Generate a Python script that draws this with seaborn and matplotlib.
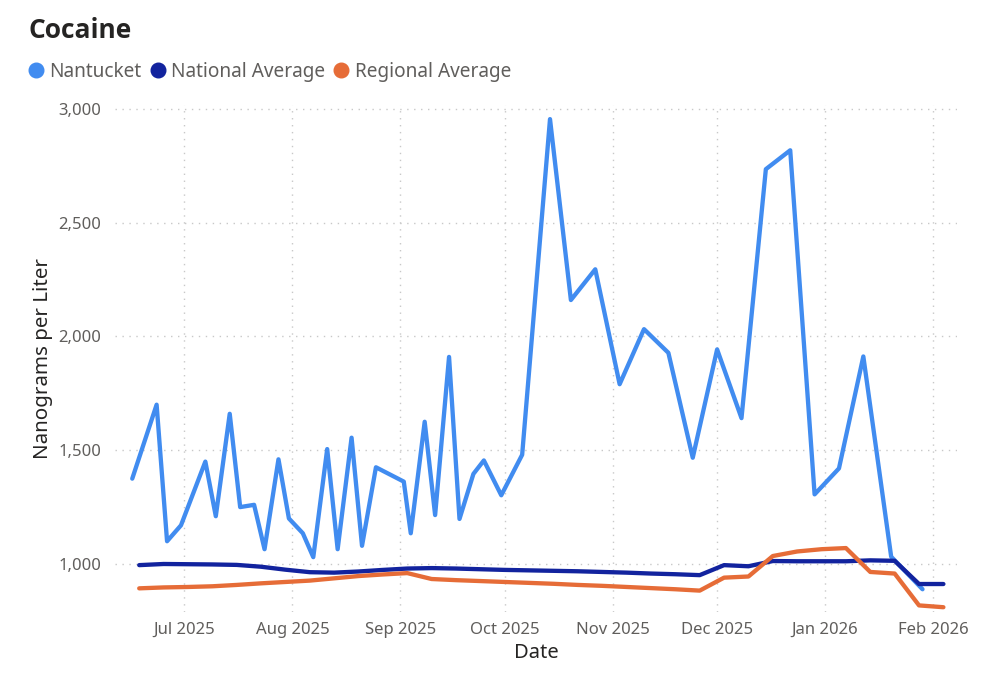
"""
Cocaine concentration in wastewater: Nantucket vs national and regional averages.
"""

import pandas as pd
import numpy as np
import matplotlib
matplotlib.use("Agg")
import matplotlib.pyplot as plt
import matplotlib.dates as mdates
from matplotlib.lines import Line2D
from matplotlib.ticker import FuncFormatter, MultipleLocator
import seaborn as sns

# Nantucket samples (twice weekly in summer, weekly from October)
nantucket_dates = [
    "2025-06-16", "2025-06-23", "2025-06-26", "2025-06-30", "2025-07-07",
    "2025-07-10", "2025-07-14", "2025-07-17", "2025-07-21", "2025-07-24",
    "2025-07-28", "2025-07-31", "2025-08-04", "2025-08-07", "2025-08-11",
    "2025-08-14", "2025-08-18", "2025-08-21", "2025-08-25", "2025-09-02",
    "2025-09-04", "2025-09-08", "2025-09-11", "2025-09-15", "2025-09-18",
    "2025-09-22", "2025-09-25", "2025-09-30", "2025-10-06", "2025-10-14",
    "2025-10-20", "2025-10-27", "2025-11-03", "2025-11-10", "2025-11-17",
    "2025-11-24", "2025-12-01", "2025-12-08", "2025-12-15", "2025-12-22",
    "2025-12-29", "2026-01-05", "2026-01-12", "2026-01-20", "2026-01-29",
]
nantucket_values = [
    1375, 1700, 1100, 1170, 1450, 1210, 1660, 1250, 1260, 1065,
    1460, 1200, 1135, 1030, 1505, 1065, 1555, 1080, 1425, 1362,
    1135, 1625, 1215, 1910, 1198, 1396, 1455, 1302, 1480, 2955,
    2160, 2295, 1790, 2032, 1928, 1467, 1943, 1641, 2735, 2818,
    1306, 1420, 1912, 1032, 889,
]

# weekly averages
avg_dates = pd.date_range("2025-06-18", periods=34, freq="7D")
national_values = [
    995, 1000, 999, 998, 996, 988, 975, 964, 962, 967,
    974, 980, 982, 980, 977, 974, 972, 970, 968, 965,
    962, 958, 955, 951, 995, 990, 1013, 1012, 1012, 1012,
    1016, 1014, 912, 912,
]
regional_values = [
    893, 897, 899, 902, 908, 915, 921, 927, 937, 947,
    954, 960, 934, 929, 925, 921, 917, 913, 908, 904,
    899, 894, 889, 883, 940, 945, 1035, 1055, 1065, 1070,
    965, 958, 818, 810,
]

series_names = ["Nantucket", "National Average", "Regional Average"]
series_colors = ["#418CF0", "#12239E", "#E66C37"]

df = pd.concat([
    pd.DataFrame({"date": pd.to_datetime(nantucket_dates), "value": nantucket_values,
                  "series": series_names[0]}),
    pd.DataFrame({"date": avg_dates, "value": national_values, "series": series_names[1]}),
    pd.DataFrame({"date": avg_dates, "value": regional_values, "series": series_names[2]}),
], ignore_index=True)

sns.set_theme(style="white")
plt.rcParams["font.family"] = ["Noto Sans", "DejaVu Sans"]

fig, ax = plt.subplots(figsize=(9.9, 6.76), dpi=100)
fig.subplots_adjust(left=0.116, right=0.967, top=0.845, bottom=0.095)

sns.lineplot(data=df, x="date", y="value", hue="series", hue_order=series_names,
             palette=dict(zip(series_names, series_colors)), linewidth=3.1,
             legend=False, ax=ax)

ax.set_xlim(pd.Timestamp("2025-06-11"), pd.Timestamp("2026-02-08"))
ax.set_ylim(790, 3018)
ax.yaxis.set_major_locator(MultipleLocator(500))
ax.yaxis.set_major_formatter(FuncFormatter(lambda v, p: f"{v:,.0f}" if v >= 1000 else ""))
ax.xaxis.set_major_locator(mdates.MonthLocator())
ax.xaxis.set_major_formatter(mdates.DateFormatter("%b %Y"))

ax.grid(True, color="#C8C8C8", linestyle=(0, (1, 4)), linewidth=1.0)
for s in ax.spines.values():
    s.set_visible(False)
ax.tick_params(axis="both", length=0, labelsize=12, labelcolor="#605E5C")
ax.tick_params(axis="y", pad=10)
ax.tick_params(axis="x", pad=7)

ax.set_xlabel("Date", fontsize=14.5, color="#252423", labelpad=4)
ax.set_ylabel("Nanograms per Liter", fontsize=14.8, color="#252423", labelpad=4)

fig.text(28 / 990, 1 - 30 / 676, "Cocaine", fontsize=19, fontweight="bold",
         family=["Open Sans", "DejaVu Sans"], color="#252423", va="center", ha="left")

handles = [Line2D([], [], linestyle="none", marker="o", markersize=10.5,
                  markerfacecolor=c, markeredgecolor=c) for c in series_colors]
fig.legend(handles, series_names, loc="center left",
           bbox_to_anchor=(21 / 990, 1 - 72 / 676), ncol=3, frameon=False,
           handlelength=0.8, handletextpad=0.3, columnspacing=0.45,
           fontsize=13.7, labelcolor="#605E5C", borderaxespad=0)

plt.savefig("out.png", dpi=100)
